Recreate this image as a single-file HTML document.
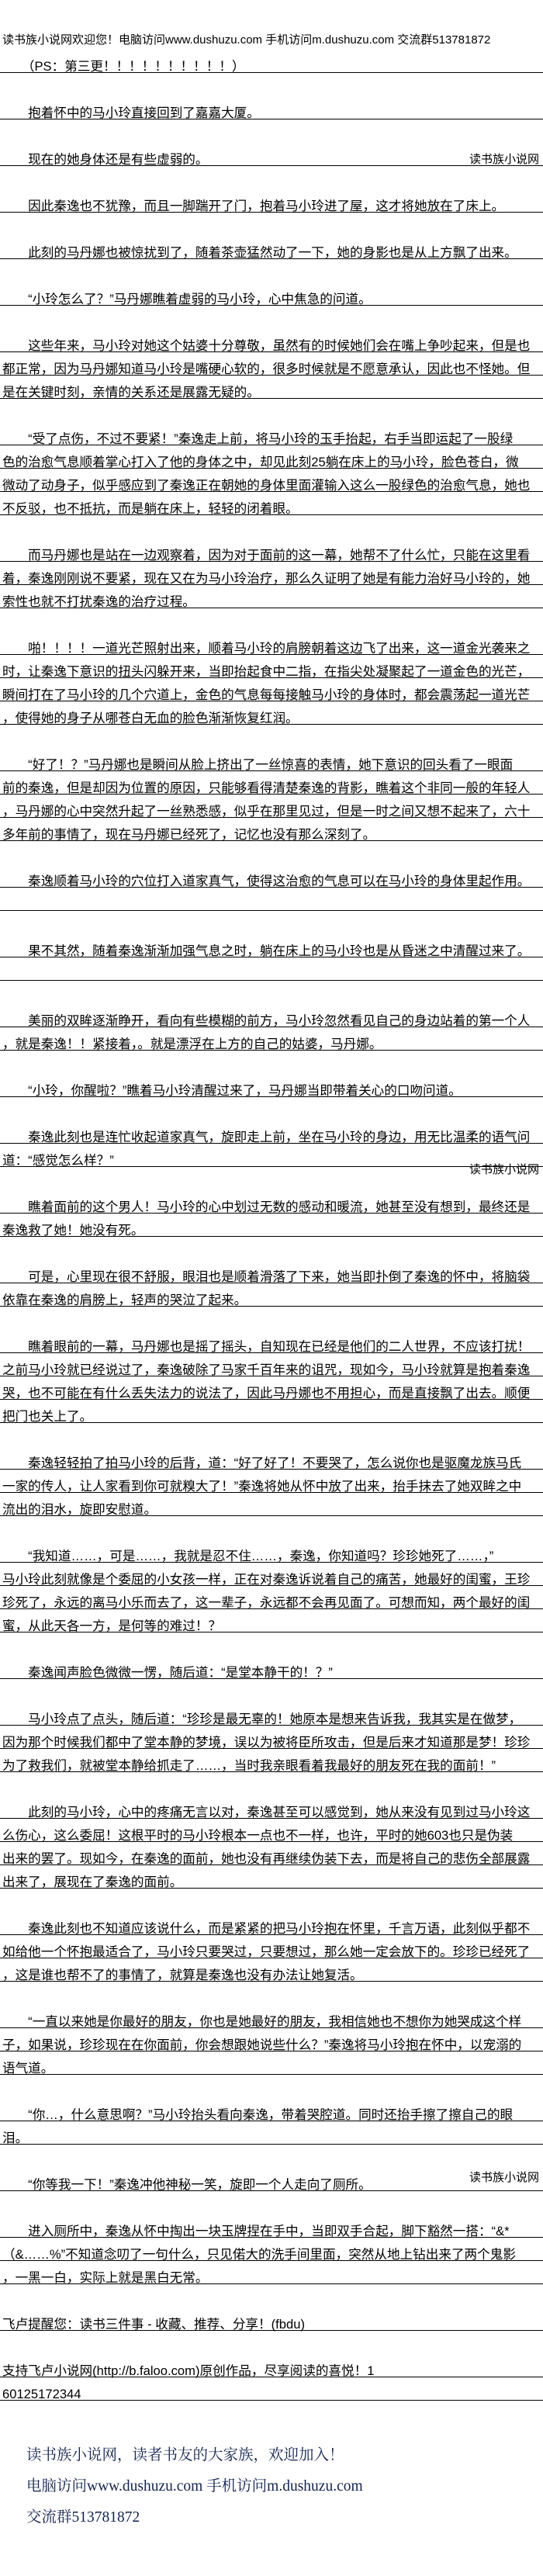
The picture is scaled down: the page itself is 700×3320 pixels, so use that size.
<!DOCTYPE html>
<html><head><meta charset="utf-8">
<style>
html,body{margin:0;padding:0;background:#fff;}
body{width:700px;height:3320px;position:relative;overflow:hidden;font-family:"Liberation Sans","Noto Sans CJK SC",sans-serif;color:#000;}
.l{position:absolute;left:0;width:697px;height:15px;padding:14px 0 0 3px;margin-top:-30px;border-bottom:1px solid #000;font-size:16.6px;line-height:16px;white-space:nowrap;}
.h{position:absolute;left:3px;font-size:15px;line-height:16px;white-space:nowrap;}
.w{position:absolute;right:5px;font-size:15px;line-height:16px;white-space:nowrap;}
.f{position:absolute;left:34px;font-family:"Liberation Serif","Noto Serif CJK SC",serif;font-size:19.5px;line-height:22px;color:#14234f;white-space:nowrap;}
</style></head><body>
<div class="h" style="top:44px">读书族小说网欢迎您！电脑访问www.dushuzu.com 手机访问m.dushuzu.com 交流群513781872</div>
<div class="l" style="top:94px">　　（PS：第三更！！！！！！！！！！）</div>
<div class="l" style="top:154px">　　抱着怀中的马小玲直接回到了嘉嘉大厦。</div>
<div class="l" style="top:214px">　　现在的她身体还是有些虚弱的。</div>
<div class="w" style="top:198px">读书族小说网</div>
<div class="l" style="top:274px">　　因此秦逸也不犹豫，而且一脚踹开了门，抱着马小玲进了屋，这才将她放在了床上。</div>
<div class="l" style="top:334px">　　此刻的马丹娜也被惊扰到了，随着茶壶猛然动了一下，她的身影也是从上方飘了出来。</div>
<div class="l" style="top:394px">　　“小玲怎么了？”马丹娜瞧着虚弱的马小玲，心中焦急的问道。</div>
<div class="l" style="top:454px">　　这些年来，马小玲对她这个姑婆十分尊敬，虽然有的时候她们会在嘴上争吵起来，但是也</div>
<div class="l" style="top:484px">都正常，因为马丹娜知道马小玲是嘴硬心软的，很多时候就是不愿意承认，因此也不怪她。但</div>
<div class="l" style="top:514px">是在关键时刻，亲情的关系还是展露无疑的。</div>
<div class="l" style="top:574px">　　“受了点伤，不过不要紧！”秦逸走上前，将马小玲的玉手抬起，右手当即运起了一股绿</div>
<div class="l" style="top:604px">色的治愈气息顺着掌心打入了他的身体之中，却见此刻25躺在床上的马小玲，脸色苍白，微</div>
<div class="l" style="top:634px">微动了动身子，似乎感应到了秦逸正在朝她的身体里面灌输入这么一股绿色的治愈气息，她也</div>
<div class="l" style="top:664px">不反驳，也不抵抗，而是躺在床上，轻轻的闭着眼。</div>
<div class="l" style="top:724px">　　而马丹娜也是站在一边观察着，因为对于面前的这一幕，她帮不了什么忙，只能在这里看</div>
<div class="l" style="top:754px">着，秦逸刚刚说不要紧，现在又在为马小玲治疗，那么久证明了她是有能力治好马小玲的，她</div>
<div class="l" style="top:784px">索性也就不打扰秦逸的治疗过程。</div>
<div class="l" style="top:844px">　　啪！！！！一道光芒照射出来，顺着马小玲的肩膀朝着这边飞了出来，这一道金光袭来之</div>
<div class="l" style="top:874px">时，让秦逸下意识的扭头闪躲开来，当即抬起食中二指，在指尖处凝聚起了一道金色的光芒，</div>
<div class="l" style="top:904px">瞬间打在了马小玲的几个穴道上，金色的气息每每接触马小玲的身体时，都会震荡起一道光芒</div>
<div class="l" style="top:934px">，使得她的身子从哪苍白无血的脸色渐渐恢复红润。</div>
<div class="l" style="top:994px">　　“好了！？”马丹娜也是瞬间从脸上挤出了一丝惊喜的表情，她下意识的回头看了一眼面</div>
<div class="l" style="top:1024px">前的秦逸，但是却因为位置的原因，只能够看得清楚秦逸的背影，瞧着这个非同一般的年轻人</div>
<div class="l" style="top:1054px">，马丹娜的心中突然升起了一丝熟悉感，似乎在那里见过，但是一时之间又想不起来了，六十</div>
<div class="l" style="top:1084px">多年前的事情了，现在马丹娜已经死了，记忆也没有那么深刻了。</div>
<div class="l" style="top:1144px">　　秦逸顺着马小玲的穴位打入道家真气，使得这治愈的气息可以在马小玲的身体里起作用。</div>
<div class="l" style="top:1174px"></div>
<div class="l" style="top:1234px">　　果不其然，随着秦逸渐渐加强气息之时，躺在床上的马小玲也是从昏迷之中清醒过来了。</div>
<div class="l" style="top:1264px"></div>
<div class="l" style="top:1324px">　　美丽的双眸逐渐睁开，看向有些模糊的前方，马小玲忽然看见自己的身边站着的第一个人</div>
<div class="l" style="top:1354px">，就是秦逸！！紧接着，。就是漂浮在上方的自己的姑婆，马丹娜。</div>
<div class="l" style="top:1414px">　　“小玲，你醒啦？”瞧着马小玲清醒过来了，马丹娜当即带着关心的口吻问道。</div>
<div class="l" style="top:1474px">　　秦逸此刻也是连忙收起道家真气，旋即走上前，坐在马小玲的身边，用无比温柔的语气问</div>
<div class="l" style="top:1504px">道：“感觉怎么样？”</div>
<div class="w" style="top:1500px">读书族小说网</div>
<div class="l" style="top:1564px">　　瞧着面前的这个男人！马小玲的心中划过无数的感动和暖流，她甚至没有想到，最终还是</div>
<div class="l" style="top:1594px">秦逸救了她！她没有死。</div>
<div class="l" style="top:1654px">　　可是，心里现在很不舒服，眼泪也是顺着滑落了下来，她当即扑倒了秦逸的怀中，将脑袋</div>
<div class="l" style="top:1684px">依靠在秦逸的肩膀上，轻声的哭泣了起来。</div>
<div class="l" style="top:1744px">　　瞧着眼前的一幕，马丹娜也是摇了摇头，自知现在已经是他们的二人世界，不应该打扰！</div>
<div class="l" style="top:1774px">之前马小玲就已经说过了，秦逸破除了马家千百年来的诅咒，现如今，马小玲就算是抱着秦逸</div>
<div class="l" style="top:1804px">哭，也不可能在有什么丢失法力的说法了，因此马丹娜也不用担心，而是直接飘了出去。顺便</div>
<div class="l" style="top:1834px">把门也关上了。</div>
<div class="l" style="top:1894px">　　秦逸轻轻拍了拍马小玲的后背，道：“好了好了！不要哭了，怎么说你也是驱魔龙族马氏</div>
<div class="l" style="top:1924px">一家的传人，让人家看到你可就糗大了！”秦逸将她从怀中放了出来，抬手抹去了她双眸之中</div>
<div class="l" style="top:1954px">流出的泪水，旋即安慰道。</div>
<div class="l" style="top:2014px">　　“我知道……，可是……，我就是忍不住……，秦逸，你知道吗？珍珍她死了……，”</div>
<div class="l" style="top:2044px">马小玲此刻就像是个委屈的小女孩一样，正在对秦逸诉说着自己的痛苦，她最好的闺蜜，王珍</div>
<div class="l" style="top:2074px">珍死了，永远的离马小乐而去了，这一辈子，永远都不会再见面了。可想而知，两个最好的闺</div>
<div class="l" style="top:2104px">蜜，从此天各一方，是何等的难过！？</div>
<div class="l" style="top:2164px">　　秦逸闻声脸色微微一愣，随后道：“是堂本静干的！？”</div>
<div class="l" style="top:2224px">　　马小玲点了点头，随后道：“珍珍是最无辜的！她原本是想来告诉我，我其实是在做梦，</div>
<div class="l" style="top:2254px">因为那个时候我们都中了堂本静的梦境，误以为被将臣所攻击，但是后来才知道那是梦！珍珍</div>
<div class="l" style="top:2284px">为了救我们，就被堂本静给抓走了……，当时我亲眼看着我最好的朋友死在我的面前！”</div>
<div class="l" style="top:2344px">　　此刻的马小玲，心中的疼痛无言以对，秦逸甚至可以感觉到，她从来没有见到过马小玲这</div>
<div class="l" style="top:2374px">么伤心，这么委屈！这根平时的马小玲根本一点也不一样，也许，平时的她603也只是伪装</div>
<div class="l" style="top:2404px">出来的罢了。现如今，在秦逸的面前，她也没有再继续伪装下去，而是将自己的悲伤全部展露</div>
<div class="l" style="top:2434px">出来了，展现在了秦逸的面前。</div>
<div class="l" style="top:2494px">　　秦逸此刻也不知道应该说什么，而是紧紧的把马小玲抱在怀里，千言万语，此刻似乎都不</div>
<div class="l" style="top:2524px">如给他一个怀抱最适合了，马小玲只要哭过，只要想过，那么她一定会放下的。珍珍已经死了</div>
<div class="l" style="top:2554px">，这是谁也帮不了的事情了，就算是秦逸也没有办法让她复活。</div>
<div class="l" style="top:2614px">　　“一直以来她是你最好的朋友，你也是她最好的朋友，我相信她也不想你为她哭成这个样</div>
<div class="l" style="top:2644px">子，如果说，珍珍现在在你面前，你会想跟她说些什么？”秦逸将马小玲抱在怀中，以宠溺的</div>
<div class="l" style="top:2674px">语气道。</div>
<div class="l" style="top:2734px">　　“你…，什么意思啊？”马小玲抬头看向秦逸，带着哭腔道。同时还抬手擦了擦自己的眼</div>
<div class="l" style="top:2764px">泪。</div>
<div class="w" style="top:2799px">读书族小说网</div>
<div class="l" style="top:2824px">　　“你等我一下！”秦逸冲他神秘一笑，旋即一个人走向了厕所。</div>
<div class="l" style="top:2884px">　　进入厕所中，秦逸从怀中掏出一块玉牌捏在手中，当即双手合起，脚下豁然一搭：“&amp;*</div>
<div class="l" style="top:2914px">（&amp;……%”不知道念叨了一句什么，只见偌大的洗手间里面，突然从地上钻出来了两个鬼影</div>
<div class="l" style="top:2944px">，一黑一白，实际上就是黑白无常。</div>
<div class="l" style="top:3004px">飞卢提醒您：读书三件事 - 收藏、推荐、分享！(fbdu)</div>
<div class="l" style="top:3064px">支持飞卢小说网(http://b.faloo.com)原创作品，尽享阅读的喜悦！1</div>
<div class="l" style="top:3094px">60125172344</div>
<div class="f" style="top:3154px">读书族小说网，读者书友的大家族，欢迎加入！</div>
<div class="f" style="top:3194px">电脑访问www.dushuzu.com 手机访问m.dushuzu.com</div>
<div class="f" style="top:3234px">交流群513781872</div>
</body></html>
